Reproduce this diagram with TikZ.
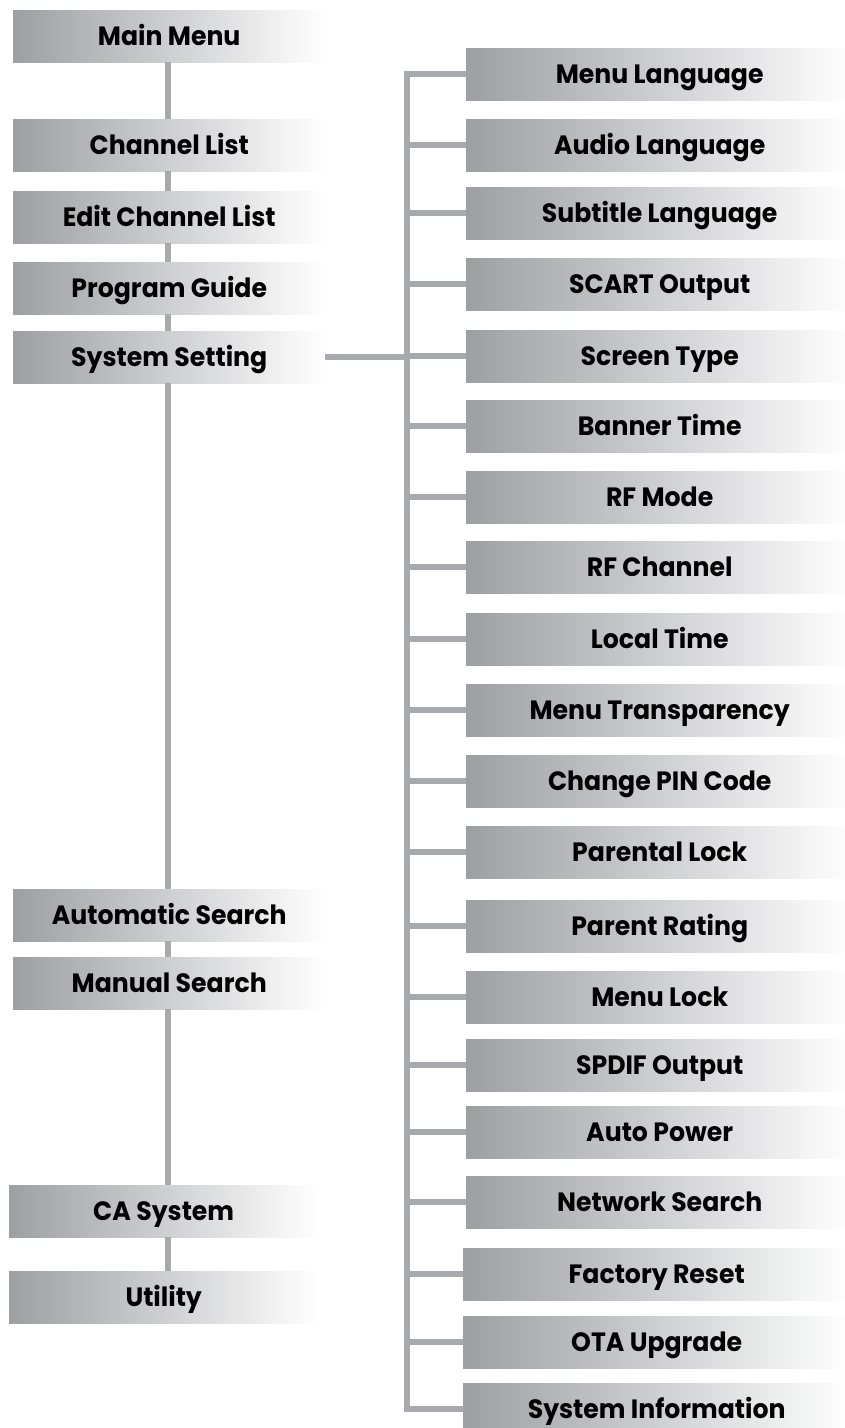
\documentclass[tikz,border=0pt]{standalone}
\usepackage{fontspec}
\setmainfont{Poppins}[FakeStretch=0.95]
\usetikzlibrary{calc}
\definecolor{boxgray}{RGB}{158,159,163}
\definecolor{linegray}{RGB}{168,169,172}

\begin{document}
\begin{tikzpicture}[x=1pt,y=-1pt,
  menubox/.style={anchor=west,minimum height=52pt,inner sep=0pt,text height=20pt,text depth=2pt,
    left color=boxgray,right color=white,font=\bfseries\fontsize{26.5}{30}\selectfont},
  link/.style={draw=linegray,line width=5.5pt}]
  \useasboundingbox (0,0) rectangle (845,1428);
  \coordinate (tl) at (168,0); \coordinate (tr) at (407,0);
  % main menu column
  \foreach \n/\x/\y/\w/\t in {M/13/36/312/Main Menu,C/13/145/312/Channel List,E/13/217/312/Edit Channel List,
    P/13/288/312/Program Guide,S/13/357/312/System Setting,A/13/915/312/Automatic Search,
    N/13/983/312/Manual Search,CA/9/1211/309/CA System,U/9/1297/309/Utility}
    \node[menubox,minimum width=\w pt] (\n) at (\x,\y) {\t};
  \foreach \a/\b in {M/C,C/E,E/P,P/S,S/A,A/N,N/CA,CA/U}\draw[link] (\a.south -| tl)--(\b.north -| tl);
  % system setting column
  \foreach \i/\x/\y/\t in {1/466/74/Menu Language,2/466/145/Audio Language,3/466/213/Subtitle Language,
    4/466/284/SCART Output,5/466/356/Screen Type,6/466/426/Banner Time,7/466/497/RF Mode,
    8/466/567/RF Channel,9/466/639/Local Time,10/466/710/Menu Transparency,11/466/781/Change PIN Code,
    12/466/852/Parental Lock,13/466/926/Parent Rating,14/466/997/Menu Lock,15/466/1065/SPDIF Output,
    16/466/1132/Auto Power,17/466/1202/Network Search,18/463/1274/Factory Reset,19/463/1342/OTA Upgrade,
    20/463/1409/System Information}
    \node[menubox,minimum width=387pt] (r\i) at (\x,\y) {\t};
  \draw[link] (r1.west)--(r1.west -| tr)--(r20.west -| tr)--(r20.west);
  \foreach \i in {2,...,19}\draw[link] (r\i.west -| tr)--(r\i.west);
  \draw[link] (S.east)--(S.east -| tr);
\end{tikzpicture}
\end{document}
